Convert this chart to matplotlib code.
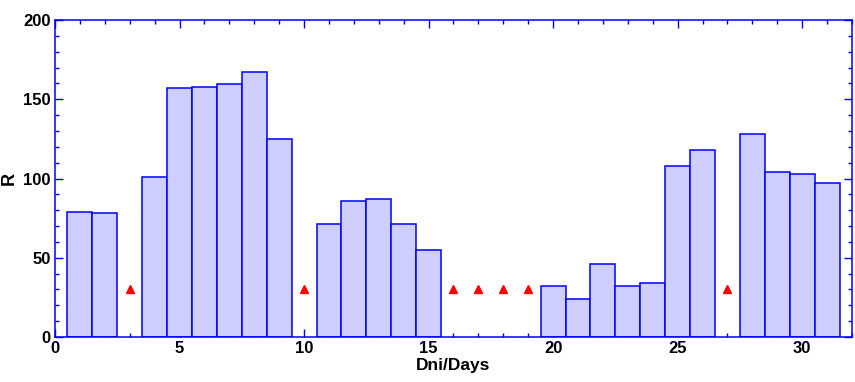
import numpy as np
import matplotlib.pyplot as plt
from matplotlib.ticker import MultipleLocator

# daily values
days = [1, 2, 4, 5, 6, 7, 8, 9, 11, 12, 13, 14, 15, 20, 21, 22, 23, 24, 25, 26, 28, 29, 30, 31]
r_vals = [79, 78, 101, 157, 158, 159.5, 167, 125, 71, 86, 87, 71, 55, 32, 24, 46, 32, 34, 108, 118, 128, 104, 103, 97]

# days with no data, marked with a triangle
missing_days = [3, 10, 16, 17, 18, 19, 27]
missing_level = [30, 30, 30, 30, 30, 30, 30]

plt.rcParams['font.family'] = ['Liberation Sans', 'DejaVu Sans']
plt.rcParams['font.weight'] = 'bold'

fig = plt.figure(figsize=(8.55, 3.82), dpi=100)
ax = fig.add_axes([0.0643, 0.1178, 0.9322, 0.8298])

ax.bar(days, r_vals, width=1.0, color='#CFCFFF', edgecolor='#0000FF', linewidth=1.1, zorder=2)
ax.plot(missing_days, missing_level, linestyle='none', marker='^', color='red', markersize=5.5, zorder=3)

ax.set_xlim(0, 32)
ax.set_ylim(0, 200)
ax.xaxis.set_major_locator(MultipleLocator(5))
ax.xaxis.set_minor_locator(MultipleLocator(1))
ax.yaxis.set_major_locator(MultipleLocator(50))
ax.yaxis.set_minor_locator(MultipleLocator(10))
ax.set_axisbelow(True)

ax.tick_params(which='both', direction='in', top=True, right=True, color='#0000FF', width=1.0,
               labelsize=12, pad=3)
ax.tick_params(which='major', length=6)
ax.tick_params(which='minor', length=3)
for lab in ax.get_xticklabels() + ax.get_yticklabels():
    lab.set_fontweight('bold')

for sp in ax.spines.values():
    sp.set_color('#0000FF')
    sp.set_linewidth(1.1)

ax.set_xlabel('Dni/Days', fontsize=12.5, fontweight='bold', labelpad=1)
ax.set_ylabel('R', fontsize=13, fontweight='bold', labelpad=4)

fig.savefig('out.png', dpi=100)
